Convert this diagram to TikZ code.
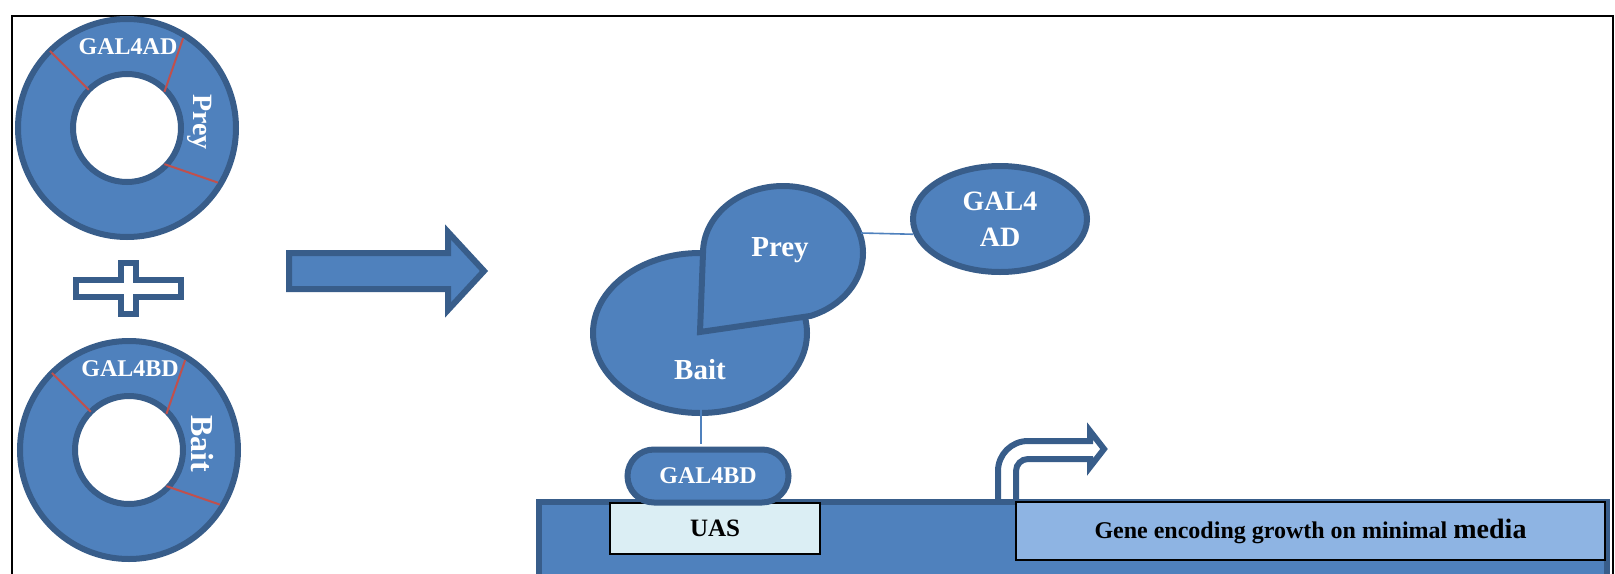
\documentclass[tikz,border=0pt]{standalone}
\usepackage{fontspec}
\setmainfont{Liberation Serif}
\usetikzlibrary{shapes.geometric,%
		shapes.misc}

\definecolor{blu}{HTML}{4F81BD}
\definecolor{blubordo}{HTML}{385D8A}
\definecolor{rosso}{HTML}{C0504D}
\definecolor{celeste}{HTML}{DBEEF4}
\definecolor{azzurro}{HTML}{8EB4E3}

\begin{document}
\begin{tikzpicture}[x=0.5pt,y=-0.5pt,font=\bfseries,
  forma/.style={fill=blu,draw=blubordo,line width=3pt},
  taglio/.style={draw=rosso,line width=1pt},
  legame/.style={draw=blu,line width=0.8pt},
  scritta/.style={text=white,inner sep=0pt},
  scatola/.style={draw=black,line width=1pt,inner sep=0pt}]

  \useasboundingbox (0,0) rectangle (1615,573);%area del disegno
  \clip (0,0) rectangle (1615,573);
  \fill[white] (0,0) rectangle (1615,573);
  \draw[line width=1pt] (12,16) rectangle (1613,600);%la cornice

  \coordinate (p1) at (127,128);%centro plasmide con la preda
  \coordinate (p2) at (129,450);%centro plasmide con l'esca
  \foreach \c/\d/\p/\s in {p1/GAL4AD/Prey/14,p2/GAL4BD/Bait/16}{
    \draw[forma,even odd rule] (\c) circle[radius=109] (\c) circle[radius=54];%anello
    \begin{scope}[shift={(\c)}]
      \draw[taglio] (-135:54) -- (-135:109);%siti di taglio
      \draw[taglio] (-44:52) -- (-58:106);
      \draw[taglio] (44:52) -- (31:106);
      \node[scritta,font=\fontsize{12}{12}\selectfont\bfseries] (\c-dom) at (1,-81) {\d};
      \node[scritta,rotate=-90,font=\fontsize{\s}{\s}\selectfont\bfseries] (\c-prot) at (73,-6) {\p};
    \end{scope}
  }

  \draw[forma,fill=white] (121,263) -- (136,263) -- (136,280) -- (181,280) -- (181,297) -- (136,297)
    -- (136,314) -- (121,314) -- (121,297) -- (76,297) -- (76,280) -- (121,280) -- cycle;%il segno piu'

  \draw[forma] (289,253) -- (448,253) -- (448,232) -- (484,271) -- (448,310) -- (448,289) -- (289,289) -- cycle;%freccia

  \draw[forma] (700,333) ellipse[x radius=107,y radius=80];%l'esca
  \draw[forma] (703,253) arc[start angle=180,end angle=430,x radius=80,y radius=67] -- (700,332) -- cycle;%la preda
  \node[scritta,font=\fontsize{14.5}{15}\selectfont\bfseries] (preda) at (780,250) {Prey};
  \node[scritta,font=\fontsize{14.5}{15}\selectfont\bfseries] (esca) at (700,370) {Bait};
  \coordinate (predaR) at (861,233);%bordo destro della preda
  \coordinate (escaB) at (701,397);%attacco sotto l'esca

  \node[forma,ellipse,minimum width=87pt,minimum height=53pt,scritta,align=center,
    font=\fontsize{14}{18}\selectfont\bfseries] (gal4ad) at (1000,219) {GAL4\\AD};
  \draw[legame] (predaR) -- (gal4ad.190);

  \draw[draw=blubordo,line width=3pt,fill=white] (998,505) -- (998,471)
    arc[start angle=180,end angle=270,radius=30] -- (1090,441) -- (1090,431) -- (1104,449)
    -- (1090,467) -- (1090,459) -- (1028,459) arc[start angle=270,end angle=180,radius=12]
    -- (1016,505);%il promotore

  \draw[forma] (539,502) rectangle (1607,600);%il DNA
  \node[scatola,fill=celeste,minimum width=105pt,minimum height=25.5pt,
    font=\fontsize{12.5}{13}\selectfont\bfseries] (uas) at (715,528.5) {UAS};
  \node[scatola,fill=azzurro,minimum width=294.5pt,minimum height=29pt,
    font=\fontsize{12}{13}\selectfont\bfseries] (gene) at (1310.5,531)
    {Gene encoding growth on minimal {\fontsize{14}{14}\selectfont media}};

  \node[forma,rounded rectangle,minimum width=80.5pt,minimum height=26.5pt,scritta,
    font=\fontsize{12}{12}\selectfont\bfseries] (gal4bd) at (708,476) {GAL4BD};
  \draw[legame,shorten >=1.5pt] (escaB) -- (escaB |- gal4bd.north);
\end{tikzpicture}
\end{document}
